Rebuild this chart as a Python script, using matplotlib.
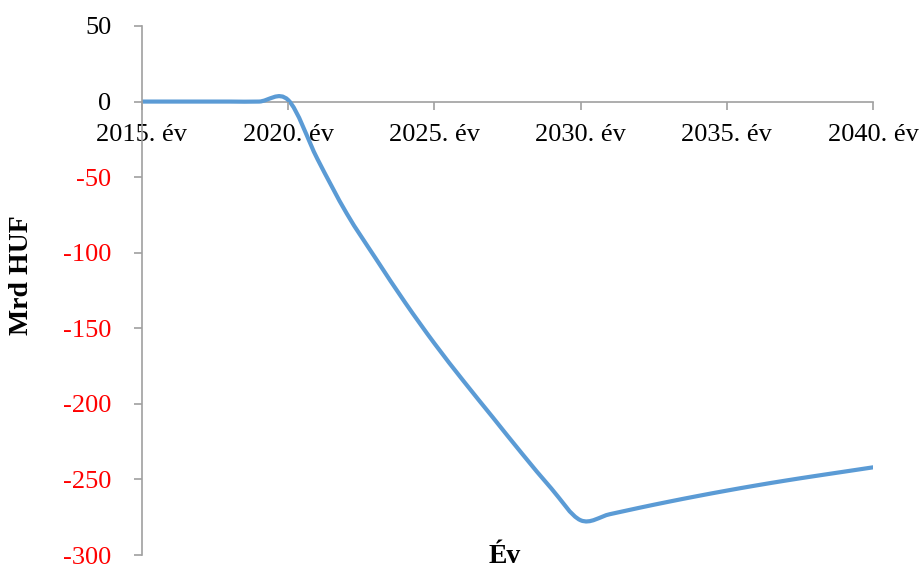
import numpy as np
import matplotlib
matplotlib.use("Agg")
import matplotlib.pyplot as plt
from matplotlib.path import Path
from matplotlib.patches import PathPatch

plt.rcParams["font.family"] = ["Liberation Serif", "DejaVu Serif"]

years = list(range(2015, 2041))
values = [0, 0, 0, 0, 0, 1, -38, -74, -104, -133, -160, -185, -209, -233,
          -256, -277, -273, -268.8, -264.8, -261, -257.4, -254, -250.8,
          -247.8, -244.9, -242]
xtick_years = [2015, 2020, 2025, 2030, 2035, 2040]
xtick_labels = [f"{y}. év" for y in xtick_years]
yticks = [50, 0, -50, -100, -150, -200, -250, -300]

LINE_COLOR = "#5B9BD5"
AXIS_COLOR = "#A0A0A0"


def smooth_path(xs, ys, t=1 / 6):
    # Bezier segments in the manner of a spreadsheet "smoothed line"
    xs = np.asarray(xs, float)
    ys = np.asarray(ys, float)
    n = len(xs)
    verts = [(xs[0], ys[0])]
    codes = [Path.MOVETO]
    for i in range(n - 1):
        p0 = (xs[max(i - 1, 0)], ys[max(i - 1, 0)])
        p1 = (xs[i], ys[i])
        p2 = (xs[i + 1], ys[i + 1])
        p3 = (xs[min(i + 2, n - 1)], ys[min(i + 2, n - 1)])
        c1 = (p1[0] + (p2[0] - p0[0]) * t, p1[1] + (p2[1] - p0[1]) * t)
        c2 = (p2[0] - (p3[0] - p1[0]) * t, p2[1] - (p3[1] - p1[1]) * t)
        verts += [c1, c2, p2]
        codes += [Path.CURVE4] * 3
    return Path(verts, codes)


fig = plt.figure(figsize=(9.21, 5.72), dpi=100)
ax = fig.add_axes([142 / 921, 1 - 555 / 572, (873 - 142) / 921, (555 - 26) / 572])

ax.add_patch(PathPatch(smooth_path(years, values), facecolor="none",
                       edgecolor=LINE_COLOR, lw=3, capstyle="round",
                       joinstyle="round"))

ax.set_xlim(2015, 2040)
ax.set_ylim(-300, 50)

for s in ["top", "right"]:
    ax.spines[s].set_visible(False)
ax.spines["bottom"].set_position(("data", 0))
ax.spines["bottom"].set_color(AXIS_COLOR)
ax.spines["left"].set_color(AXIS_COLOR)
ax.spines["bottom"].set_linewidth(1.2)
ax.spines["left"].set_linewidth(1.2)
ax.spines["bottom"].set_zorder(0)

ax.set_xticks(xtick_years)
ax.set_xticklabels(xtick_labels)
ax.set_yticks(yticks)
ax.set_yticklabels([str(v) for v in yticks])
ax.tick_params(axis="x", direction="out", length=6, width=1.2, color=AXIS_COLOR,
               labelsize=19, pad=10)
ax.tick_params(axis="y", direction="out", length=6, width=1.2, color=AXIS_COLOR,
               labelsize=19, pad=16)
for lbl, v in zip(ax.get_yticklabels(), yticks):
    lbl.set_color("#FF0000" if v < 0 else "black")

fig.text(22 / 921, 1 - 275 / 572, "Mrd HUF", rotation=90, fontsize=20,
         fontweight="bold", ha="center", va="center")
fig.text(505 / 921, 3 / 572, "Év", fontsize=20, fontweight="bold",
         ha="center", va="bottom")

fig.savefig("out.png", dpi=100)
